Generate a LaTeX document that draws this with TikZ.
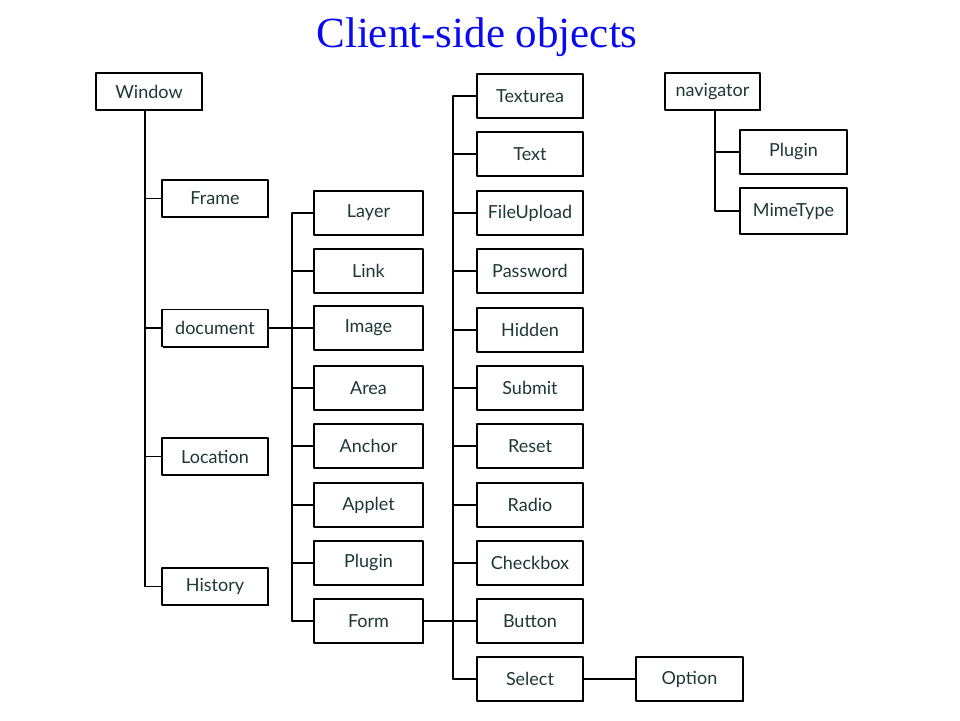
\documentclass[tikz,border=0pt]{standalone}
\usepackage{fontspec}
\setmainfont{Liberation Serif}
\newfontfamily\boxfont{Lato}
\usetikzlibrary{shadows}
\definecolor{titleblue}{RGB}{10,10,240}
\definecolor{labeltext}{RGB}{30,55,55}
\begin{document}
\begin{tikzpicture}[x=1pt, y=-1pt, line join=round, line cap=round,
	objbox/.style={draw, fill=white, line width=1.6pt, inner sep=0pt, minimum width=106pt, minimum height=44pt,
		font=\boxfont\fontsize{18}{18}\selectfont, text=labeltext,
		general shadow={fill=black, shadow xshift=1.3pt, shadow yshift=-1.3pt}},
	wire/.style={line width=1.4pt}]
	\useasboundingbox (0,0) rectangle (960,720);
	\node[font=\fontsize{43}{43}\selectfont, text=titleblue, anchor=base] (title) at (477,47) {Client-side objects};
	% Window and its children
	\node[objbox, minimum height=37pt] (window) at (149,91.5) {Window};
	\foreach \n/\t/\y in {frame/Frame/198.5, document/document/328, location/Location/456.5, history/History/586.5}{
		\node[objbox, minimum height=37pt] (\n) at (215,\y) {\t};
	}
	\coordinate (wbus) at ([xshift=-4pt]window.south);
	\draw[wire] (wbus) -- (wbus |- history.west);
	\foreach \n in {frame, document, location, history}{
		\draw[wire] (wbus |- \n.west) -- (\n.west);
	}
	% document children
	\foreach \n/\t/\y in {layer/Layer/213, link/Link/271, image/Image/328, area/Area/388, anchor/Anchor/446,
		applet/Applet/505, docplugin/Plugin/563, form/Form/621}{
		\node[objbox, minimum width=109pt] (\n) at (368.5,\y) {\t};
	}
	\coordinate (dbus) at (292,0);
	\draw[wire] (dbus |- layer.west) -- (dbus |- form.west);
	\foreach \n in {layer, link, image, area, anchor, applet, docplugin, form}{
		\draw[wire] (dbus |- \n.west) -- (\n.west);
	}
	\draw[wire] (document.east) -- (dbus |- document.east);
	% form children
	\foreach \n/\t/\y in {texturea/Texturea/96, text/Text/154, fileupload/FileUpload/213, password/Password/271,
		hidden/Hidden/330, submit/Submit/388, reset/Reset/446, radio/Radio/505, checkbox/Checkbox/563,
		button/Button/621, select/Select/679}{
		\node[objbox] (\n) at (530,\y) {\t};
	}
	\coordinate (fbus) at (453,0);
	\draw[wire] (fbus |- texturea.west) -- (fbus |- select.west);
	\foreach \n in {texturea, text, fileupload, password, hidden, submit, reset, radio, checkbox, button, select}{
		\draw[wire] (fbus |- \n.west) -- (\n.west);
	}
	\draw[wire] (form.east) -- (button.west);
	\node[objbox, minimum width=107pt] (option) at (689.5,679) {Option};
	\draw[wire] (select.east) -- (option.west);
	% navigator
	\node[objbox, minimum width=95pt, minimum height=37pt] (navigator) at (712.5,91.5) {navigator};
	\node[objbox, minimum width=107pt] (navplugin) at (793.5,152) {Plugin};
	\node[objbox, minimum width=107pt, minimum height=46pt] (mimetype) at (793.5,211) {MimeType};
	\coordinate (nbus) at ([xshift=2.5pt]navigator.south);
	\draw[wire] (nbus) -- (nbus |- mimetype.west) -- (mimetype.west);
	\draw[wire] (nbus |- navplugin.west) -- (navplugin.west);
\end{tikzpicture}
\end{document}
